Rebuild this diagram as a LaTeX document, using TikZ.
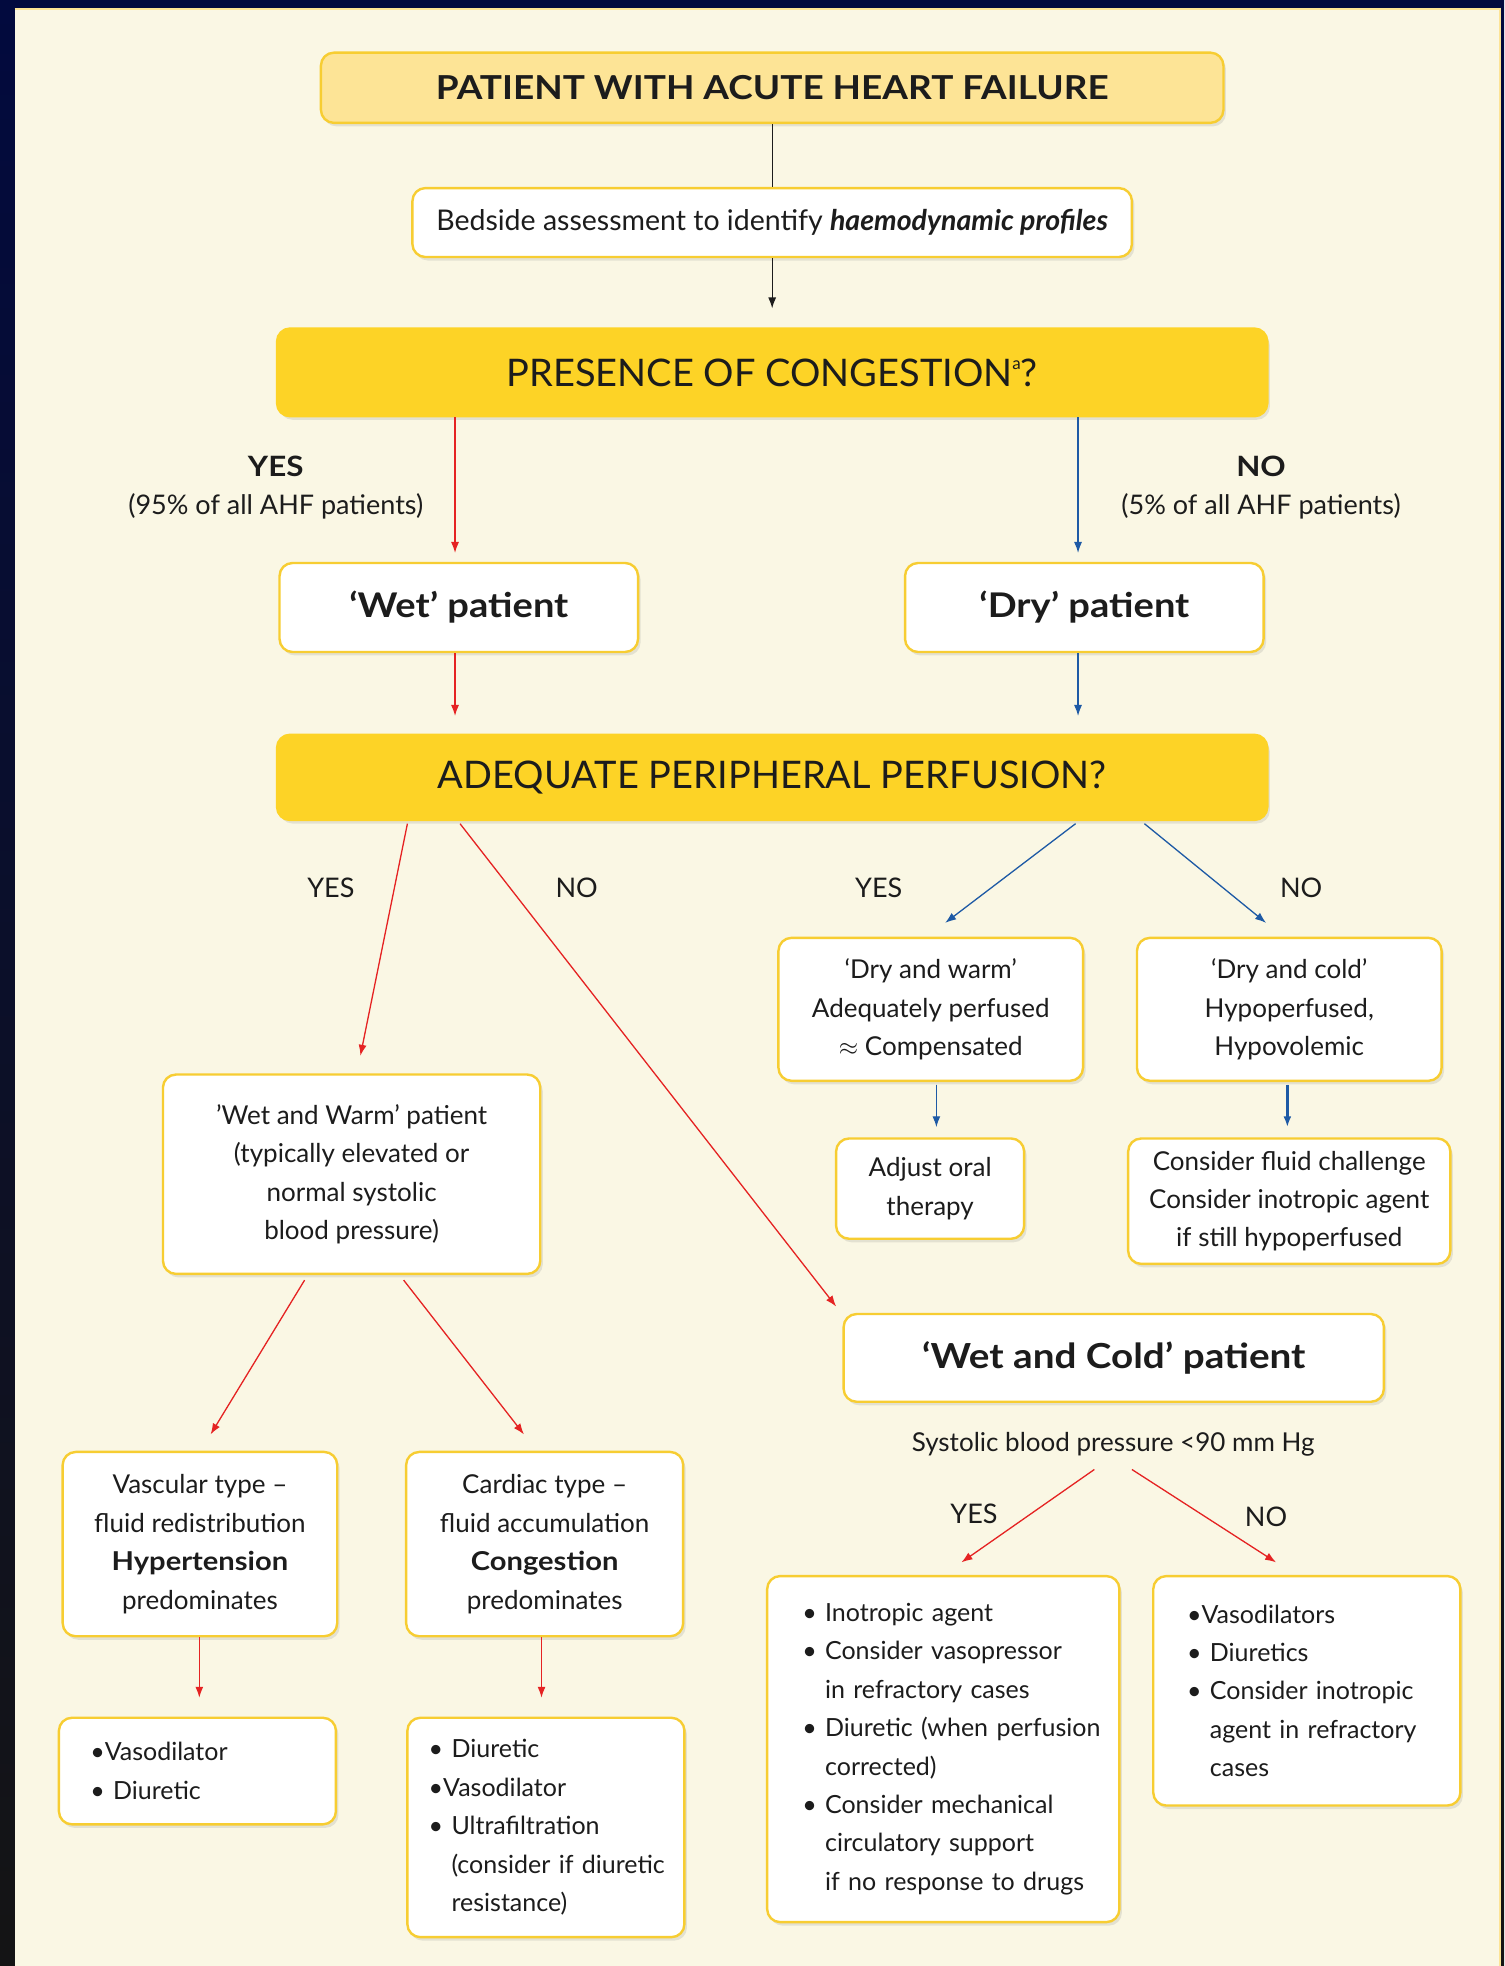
\documentclass[tikz,border=0pt]{standalone}
\usepackage{fontspec}
\setmainfont{Lato}[BoldFeatures={FakeStretch=1.12}]
\usetikzlibrary{arrows.meta,shadows,calc}
\definecolor{navyc}{RGB}{2,10,62}
\definecolor{creamc}{RGB}{250,247,228}
\definecolor{titlec}{RGB}{253,228,150}
\definecolor{yellc}{RGB}{253,211,38}
\definecolor{bordc}{RGB}{247,205,50}
\definecolor{redc}{RGB}{229,35,35}
\definecolor{bluec}{RGB}{30,90,165}
\definecolor{txtc}{RGB}{28,28,28}
\newcommand\fbody{\fontsize{26}{38.4}\selectfont}
\newcommand\flist{\fontsize{25}{38.4}\selectfont}
\newcommand\flbl{\fontsize{27}{32}\selectfont}
\newcommand\fttl{\fontsize{33}{40}\selectfont\bfseries}
\newcommand\fq{\fontsize{38}{44}\selectfont}
\newcommand\fpat{\fontsize{34}{40}\selectfont\bfseries}
\newcommand\myln[1]{\mbox{#1}}
\newcommand\myind{\phantom{• }}
\tikzset{
  box/.style={draw=bordc, line width=2.4pt, fill=white, rounded corners=13pt,
    align=center, inner sep=0pt, font=\fbody, text=txtc,
    drop shadow={opacity=0.18, shadow xshift=2.5pt, shadow yshift=-3.5pt}},
  sz/.style 2 args={minimum width=#1*1.2533pt, minimum height=#2*1.2536pt},
  listbox/.style n args={3}{box, align=left, font=\flist, text width=#1*1.2533pt, inner xsep=#2*1.2533pt, minimum height=#3*1.2536pt},
  qbox/.style={box, fill=yellc, draw=yellc, font=\fq},
  lbl/.style={inner sep=0pt, text=txtc, font=\flbl},
  ar/.style={-{Latex[length=11pt,width=8pt]}, line width=1.3pt},
  redar/.style={ar, draw=redc, fill=redc},
  bluar/.style={ar, draw=bluec, fill=bluec},
}
\begin{document}
\begin{tikzpicture}[x=1.2533pt,y=-1.2536pt]
\useasboundingbox (0,0) rectangle (1200,1568);
\shade[top color=navyc, bottom color=black!92] (0,0) rectangle (1200,1568);
\fill[creamc] (11.7,6) rectangle (1197.5,1568);
\draw[titlec, line width=2pt] (11.7,7) -- (1197.5,7);
\draw[titlec, line width=1.5pt] (1196.8,6) -- (1196.8,1568);

% nodes
\node[box, sz={720}{56}, fill=titlec, draw=bordc, font=\fttl] (title) at (616,70) {PATIENT WITH ACUTE HEART FAILURE};
\node[box, sz={574}{55}, font=\fontsize{28.5}{32}\selectfont] (bed) at (616,177.5) {Bedside assessment to identify \textbf{\textit{haemodynamic profiles}}};
\node[qbox, sz={790}{70}] (pres) at (616,297) {PRESENCE OF CONGESTION\raisebox{0.85ex}{\fontsize{17}{17}\selectfont a}?};
\node[box, sz={286}{71}, font=\fpat] (wet) at (366,484.5) {‘Wet’ patient};
\node[box, sz={286}{71}, font=\fpat] (dry) at (865,484.5) {‘Dry’ patient};
\node[qbox, sz={790}{68}] (adeq) at (616,620) {ADEQUATE PERIPHERAL PERFUSION?};

\node[box, sz={243}{114}] (dw) at (742.5,805) {‘Dry and warm’\\Adequately perfused\\$\approx$ Compensated};
\node[box, sz={243}{114}] (dc) at (1028.5,805) {‘Dry and cold’\\Hypoperfused,\\Hypovolemic};
\node[box, sz={150}{80}] (adj) at (742,948) {Adjust oral\\therapy};
\node[box, sz={257}{100}] (cf) at (1028.5,958) {Consider fluid challenge\\Consider inotropic agent\\if still hypoperfused};

\node[box, sz={301}{159}] (ww) at (280.5,936.5) {’Wet and Warm’ patient\\(typically elevated or\\normal systolic\\blood pressure)};
\node[box, sz={219}{147}] (vasc) at (159.5,1231.5) {Vascular type –\\fluid redistribution\\\textbf{Hypertension}\\predominates};
\node[box, sz={221}{147}] (card) at (434.5,1231.5) {Cardiac type –\\fluid accumulation\\\textbf{Congestion}\\predominates};
\node[listbox={171}{25}{85}] (vd) at (157.5,1412.5) {\myln{•Vasodilator}\\\myln{• Diuretic}};
\node[listbox={187}{17}{175}] (di) at (435.5,1457.5) {\myln{• Diuretic}\\\myln{•Vasodilator}\\\myln{• Ultrafiltration}\\\myln{\myind(consider if diuretic}\\\myln{\myind resistance)}};

\node[box, sz={431}{70}, font=\fontsize{34.5}{40}\selectfont\bfseries] (wc) at (888.5,1083) {‘Wet and Cold’ patient};
\node[lbl, font=\fbody] (sbp) at (888,1152) {Systolic blood pressure <90 mm Hg};
\node[listbox={225}{28}{276}] (ino) at (752.5,1395) {\myln{• Inotropic agent}\\\myln{• Consider vasopressor}\\\myln{\myind in refractory cases}\\\myln{• Diuretic (when perfusion}\\\myln{\myind corrected)}\\\myln{• Consider mechanical}\\\myln{\myind circulatory support}\\\myln{\myind if no response to drugs}};
\node[listbox={191}{27}{183}] (vds) at (1042.5,1348.5) {\myln{•Vasodilators}\\\myln{• Diuretics}\\\myln{• Consider inotropic}\\\myln{\myind agent in refractory}\\\myln{\myind cases}};

% labels
\node[lbl, font=\fontsize{28}{32}\selectfont\bfseries] (yes1) at (220,372) {YES};
\node[lbl] (pct1) at (220,404) {(95\% of all AHF patients)};
\node[lbl, font=\fontsize{28}{32}\selectfont\bfseries] (no1) at (1006,372) {NO};
\node[lbl] (pct2) at (1006,404) {(5\% of all AHF patients)};
\node[lbl] (yes2) at (264,708) {YES};
\node[lbl] (no2) at (460,708) {NO};
\node[lbl] (yes3) at (701,708) {YES};
\node[lbl] (no3) at (1038,708) {NO};
\node[lbl] (yes4) at (777,1207) {YES};
\node[lbl] (no4) at (1010,1210) {NO};

% connectors
\draw[line width=1.2pt, txtc] (title) -- (bed);
\draw[ar, txtc] (bed) -- ($(pres.north)+(0,-15)$);
\draw[redar] ($(pres.south)+(-253,0)$) -- ($(wet.north)+(-3,-7)$);
\draw[bluar] ($(pres.south)+(244,0)$) -- ($(dry.north)+(-5,-7)$);
\draw[redar] ($(wet.south)+(-3,0)$) -- ($(adeq.north)+(-253,-14)$);
\draw[bluar] ($(dry.south)+(-5,0)$) -- ($(adeq.north)+(244,-14)$);
\draw[redar] ($(adeq.south)+(-291,2)$) -- ($(ww.north)+(7,-14)$);
\draw[redar] ($(adeq.south)+(-249,2)$) -- ($(wc.north west)+(-5,-5)$);
\draw[bluar] ($(adeq.south)+(242,2)$) -- ($(dw.north)+(11.5,-11)$);
\draw[bluar] ($(adeq.south)+(297,2)$) -- ($(dc.north)+(-18.5,-11)$);
\draw[bluar] ($(dw.south)+(4.5,2)$) -- ($(adj.north)+(5,-8)$);
\draw[bluar, line width=2.5pt] ($(dc.south)+(-1.5,2)$) -- ($(cf.north)+(-1.5,-8)$);
\draw[redar] ($(ww.south)+(-37.5,4)$) -- ($(vasc.north)+(8.5,-13)$);
\draw[redar] ($(ww.south)+(41.5,4)$) -- ($(card.north)+(-16.5,-13)$);
\draw[redar] ($(vasc.south)+(-0.5,0)$) -- ($(vd.north)+(1.5,-15)$);
\draw[redar] ($(card.south)+(-2.5,0)$) -- ($(di.north)+(-3.5,-15)$);
\draw[redar] ($(sbp.center)+(-15,20)$) -- ($(ino.north)+(14.5,-10)$);
\draw[redar] ($(sbp.center)+(15,20)$) -- ($(vds.north)+(-24.5,-10)$);
\end{tikzpicture}
\end{document}
